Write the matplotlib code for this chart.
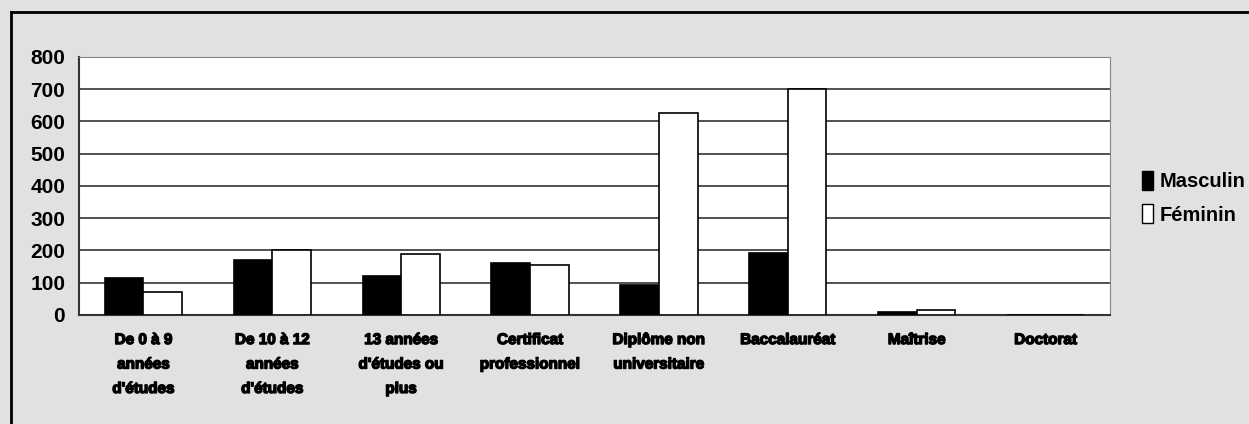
import matplotlib.pyplot as plt
import matplotlib.patheffects as pe
import numpy as np
from matplotlib.patches import Patch
from matplotlib.lines import Line2D

# categories and values
categories = ["De 0 à 9\nannées\nd'études", "De 10 à 12\nannées\nd'études",
              "13 années\nd'études ou\nplus", "Certificat\nprofessionnel",
              "Diplôme non\nuniversitaire", "Baccalauréat", "Maîtrise", "Doctorat"]
masculin = [114, 170, 121, 162, 93, 191, 8, 0]
feminin = [70, 203, 190, 155, 625, 700, 15, 0]
yticks = [0, 100, 200, 300, 400, 500, 600, 700, 800]

bg = '#e1e1e1'
plt.rcParams['font.family'] = ['Liberation Sans', 'DejaVu Sans']

fig = plt.figure(figsize=(12.49, 4.24), dpi=100, facecolor=bg)
ax = fig.add_axes([0.0633, 0.2571, 0.8254, 0.6085])

x = np.arange(len(categories))
w = 0.3
ax.bar(x - w/2, masculin, w, color='black', edgecolor='black', linewidth=1.2, zorder=3)
ax.bar(x + w/2, feminin, w, color='white', edgecolor='black', linewidth=1.2, zorder=3)

ax.set_xlim(-0.5, len(categories) - 0.5)
ax.set_ylim(0, 800)
ax.set_yticks(yticks)
ax.set_yticklabels([str(v) for v in yticks], fontsize=15, fontweight='bold')
ax.tick_params(axis='y', length=0, pad=10)
ax.yaxis.grid(True, color='#222222', linewidth=1.1, zorder=0)

ax.set_xticks(x)
labels = ax.set_xticklabels(categories, fontsize=11, fontweight='heavy',
                            linespacing=1.95, va='top')
for t in labels:
    t.set_path_effects([pe.withStroke(linewidth=1.0, foreground='black')])
ax.tick_params(axis='x', length=0, pad=13)

for s in ['top', 'right']:
    ax.spines[s].set_color('#888888')
ax.spines['left'].set_color('#333333')
ax.spines['bottom'].set_color('#333333')
ax.spines['left'].set_linewidth(1.5)
ax.spines['bottom'].set_linewidth(1.5)

handles = [Patch(facecolor='black', edgecolor='black'),
           Patch(facecolor='white', edgecolor='black')]
fig.legend(handles, ['Masculin', 'Féminin'], loc='center left',
           bbox_to_anchor=(0.908, 0.534), frameon=False,
           prop={'size': 14.5, 'weight': 'bold'},
           handlelength=0.55, handleheight=1.1, handletextpad=0.3,
           labelspacing=0.65, borderaxespad=0)

# outer frame (left and top only visible)
fig.add_artist(Line2D([0.0085, 0.0085], [0, 0.971], transform=fig.transFigure,
                      color='black', linewidth=2))
fig.add_artist(Line2D([0.0085, 1.0], [0.971, 0.971], transform=fig.transFigure,
                      color='black', linewidth=2))

fig.savefig('out.png', dpi=100, facecolor=bg)
